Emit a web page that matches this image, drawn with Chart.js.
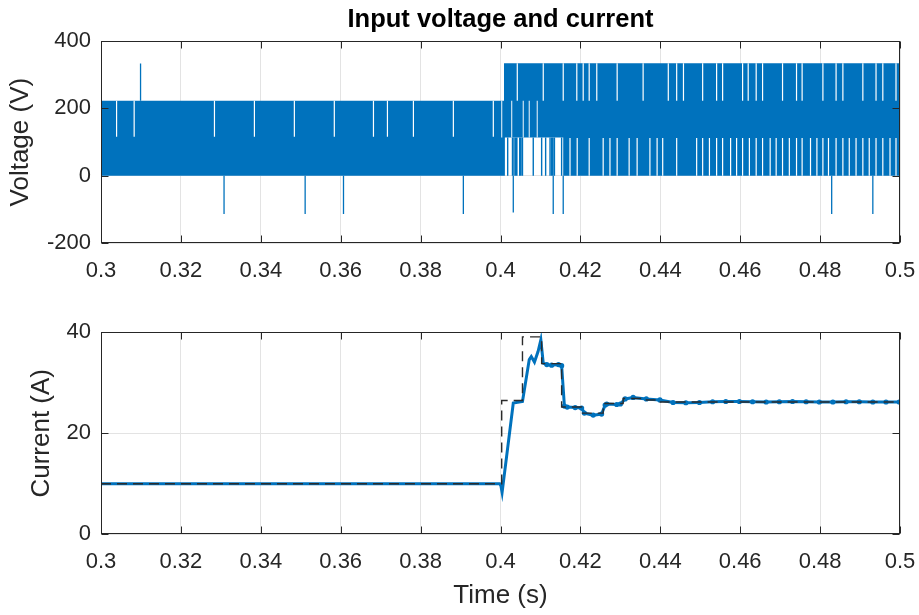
<!DOCTYPE html>
<html>
<head>
<meta charset="utf-8">
<title>Input voltage and current</title>
<script src="https://cdn.jsdelivr.net/npm/chart.js@4.4.0/dist/chart.umd.min.js"></script>
<style>
  body { margin: 0; background: #fff; }
  #wrap { position: relative; width: 919px; height: 615px; }
  canvas { position: absolute; left: 0; }
  #voltageChart { top: 0; }
  #currentChart { top: 290px; }
</style>
</head>
<body>
<div id="wrap">
  <canvas id="voltageChart" width="919" height="290"></canvas>
  <canvas id="currentChart" width="919" height="325"></canvas>
</div>
<script>
// ticks
const timeTicks = [0.3, 0.32, 0.34, 0.36, 0.38, 0.4, 0.42, 0.44, 0.46, 0.48, 0.5];
const voltageTicks = [-200, 0, 200, 400];
const currentTicks = [0, 20, 40];

// switched input voltage (V): upper envelope, held until next time
const envTime = [0.3, 0.40088, 0.5];
const envTop = [223, 334, 334];
const midLevel = 114;
// lower part of the band (0 .. ~116 V), almost empty right after the step
const lowTime = [0.3, 0.4011, 0.4157, 0.5];
const lowTop = [116, 0, 116, 116];

// instants where the pwm skips a level (white gaps in the band)
const gapsBefore = [0.3039, 0.3083, 0.3284, 0.3384, 0.3484, 0.3584, 0.3682, 0.3717, 0.3782, 0.3882, 0.3982]; // 223 -> 116
const gapsMid = [0.4003, 0.4028, 0.4057, 0.4072, 0.4092]; // 223 -> 114
const gapsUpper = [0.4042, 0.4107, 0.4157, 0.4191, 0.4207, 0.4222, 0.4241, 0.4292, 0.4357, 0.4420, 0.4441, 0.4458,
  0.4506, 0.4541, 0.4556, 0.4606, 0.4620, 0.4640, 0.4656, 0.4706, 0.4741, 0.4755, 0.4807, 0.4840, 0.4857,
  0.4907, 0.4940, 0.4957, 0.4990]; // 334 -> 223
const gapsLower = [0.4174, 0.4192, 0.4222, 0.4257, 0.4274, 0.4292, 0.4322, 0.4342, 0.4374, 0.4392, 0.4406, 0.4441,
  0.4491, 0.4506, 0.4523, 0.4541, 0.4556, 0.4576, 0.4591, 0.4606, 0.4623, 0.4640, 0.4656, 0.4675, 0.4690,
  0.4706, 0.4723, 0.4741, 0.4755, 0.4776, 0.4792, 0.4807, 0.4821, 0.4840, 0.4857, 0.4873, 0.4890, 0.4907,
  0.4923, 0.4940, 0.4957, 0.4975, 0.4990]; // 0 -> 112
// single pulses in the empty lower part (0 -> 114)
const sparsePulses = [0.4018, 0.4030, 0.4034, 0.4038, 0.4041, 0.4048, 0.4051, 0.4055, 0.4082, 0.4103, 0.4113,
  0.4124, 0.4128, 0.4131, 0.4135, 0.4153];

// spikes
const spikeUpTime = [0.3099];
const spikeUpValue = [333];
const spikeDownTime = [0.3308, 0.3511, 0.3607, 0.3907, 0.4032, 0.4132, 0.4157, 0.4829, 0.4932];
const spikeDownValue = [-113, -113, -113, -113, -109, -113, -113, -113, -113];

// current reference (A), held until next time
const refTime = [0.3, 0.4003, 0.4055, 0.4103, 0.4153, 0.4203, 0.4257, 0.4307, 0.4365, 0.4400, 0.5];
const refCurrent = [10, 26.5, 39.1, 33.8, 25.2, 24.0, 25.9, 26.9, 26.6, 26.2, 26.2];

// measured current (A)
const measTime = [0.3, 0.35, 0.3998, 0.4001, 0.4004, 0.4032, 0.4055, 0.4072, 0.4077, 0.4085, 0.4094, 0.4101,
  0.4107, 0.4116, 0.4128, 0.4145, 0.4153, 0.4160, 0.4167, 0.4187, 0.4203, 0.4210, 0.4232, 0.4253, 0.4262,
  0.4266, 0.4291, 0.4300, 0.4312, 0.4332, 0.4365, 0.4399, 0.4432, 0.4464, 0.4498, 0.4531, 0.4564, 0.4598,
  0.4631, 0.4665, 0.4698, 0.4731, 0.4765, 0.4798, 0.4832, 0.4865, 0.4898, 0.4932, 0.4965, 0.4998];
const measCurrent = [10, 10, 10, 9.6, 8.3, 26.0, 26.3, 34.6, 35.2, 34.1, 36.2, 38.5,
  33.9, 33.6, 33.5, 33.6, 33.4, 25.4, 25.2, 25.1, 25.0, 24.0, 23.6, 23.8, 25.6,
  25.8, 25.7, 25.8, 26.8, 27.1, 26.8, 26.6, 26.1, 26.05, 26.1, 26.25, 26.3, 26.3,
  26.25, 26.2, 26.25, 26.3, 26.25, 26.2, 26.2, 26.25, 26.25, 26.2, 26.2, 26.2];

const blue = '#0072BD';
const axisColor = '#262626';
const gridColor = '#e3e3e3';
Chart.defaults.font.family = '"Liberation Sans", Arial, sans-serif';
Chart.defaults.color = axisColor;

const toPoints = (xs, ys) => xs.map((x, i) => ({ x: x, y: ys[i] }));
const vSegments = (xs, from, to) => xs.flatMap((x, i) => [
  { x: x, y: Array.isArray(from) ? from[i] : from },
  { x: x, y: Array.isArray(to) ? to[i] : to },
  { x: x, y: null }
]);

// box + inward ticks like matlab
const axesBox = {
  id: 'axesBox',
  afterDraw(chart) {
    const { ctx, chartArea: a, scales } = chart;
    const l = Math.round(a.left) + 0.5, r = Math.round(a.right) - 0.5;
    const t = Math.round(a.top) + 0.5, b = Math.round(a.bottom) - 0.5;
    ctx.save();
    ctx.strokeStyle = axisColor;
    ctx.lineWidth = 1;
    ctx.strokeRect(l, t, r - l, b - t);
    ctx.beginPath();
    scales.x.ticks.forEach(tk => {
      const px = Math.round(scales.x.getPixelForValue(tk.value)) + 0.5;
      ctx.moveTo(px, b); ctx.lineTo(px, b - 7);
      ctx.moveTo(px, t); ctx.lineTo(px, t + 7);
    });
    scales.y.ticks.forEach(tk => {
      const py = Math.round(scales.y.getPixelForValue(tk.value)) + 0.5;
      ctx.moveTo(l, py); ctx.lineTo(l + 7, py);
      ctx.moveTo(r, py); ctx.lineTo(r - 7, py);
    });
    ctx.stroke();
    const title = chart.options.plugins.axesBox.title;
    if (title) {
      ctx.fillStyle = '#000';
      ctx.font = 'bold 25.5px "Liberation Sans", Arial, sans-serif';
      ctx.textAlign = 'center';
      ctx.textBaseline = 'middle';
      ctx.fillText(title, (a.left + a.right) / 2, 20);
    }
    ctx.restore();
  }
};

const xScale = (height, titleText) => ({
  type: 'linear',
  min: 0.3,
  max: 0.5,
  afterBuildTicks: s => { s.ticks = timeTicks.map(v => ({ value: v })); },
  afterFit: s => { s.height = height; s.paddingLeft = 0; s.paddingRight = 0; },
  grid: { color: gridColor, drawTicks: false },
  border: { display: false },
  ticks: {
    padding: 14,
    autoSkip: false,
    maxRotation: 0,
    font: { size: 22 },
    callback: v => String(+v.toFixed(2))
  },
  title: {
    display: !!titleText,
    text: titleText,
    font: { size: 26 },
    padding: { top: 0, bottom: 4 }
  }
});

const yScale = (min, max, tickList, titleText, titlePad) => ({
  type: 'linear',
  min: min,
  max: max,
  afterBuildTicks: s => { s.ticks = tickList.map(v => ({ value: v })); },
  afterFit: s => { s.width = 101; s.paddingTop = 0; s.paddingBottom = 0; },
  grid: { color: gridColor, drawTicks: false },
  border: { display: false },
  ticks: { padding: 10, font: { size: 22 } },
  title: { display: true, text: titleText, font: { size: 26 }, padding: { top: titlePad, bottom: 0 } }
});

const lineOpts = { pointRadius: 0, tension: 0, fill: false };

// voltage
new Chart(document.getElementById('voltageChart'), {
  type: 'line',
  data: {
    datasets: [
      { ...lineOpts, data: vSegments(spikeUpTime, envTop[0], spikeUpValue), borderColor: blue, borderWidth: 1.3 },
      { ...lineOpts, data: vSegments(spikeDownTime, 0, spikeDownValue), borderColor: blue, borderWidth: 1.3 },
      { ...lineOpts, data: vSegments(sparsePulses, 0, midLevel), borderColor: blue, borderWidth: 1.4 },
      { ...lineOpts, data: vSegments(gapsBefore, envTop[0], 116), borderColor: '#fff', borderWidth: 1.2 },
      { ...lineOpts, data: vSegments(gapsMid, envTop[0], midLevel), borderColor: 'rgba(255,255,255,0.8)', borderWidth: 1.2 },
      { ...lineOpts, data: vSegments(gapsUpper, envTop[1], envTop[0]), borderColor: '#fff', borderWidth: 1.2 },
      { ...lineOpts, data: vSegments(gapsLower, 0, 112), borderColor: '#fff', borderWidth: 1.2 },
      {
        ...lineOpts, data: toPoints(envTime, envTop), stepped: true,
        borderWidth: 0, borderColor: blue, backgroundColor: blue, fill: { value: midLevel }
      },
      {
        ...lineOpts, data: toPoints(lowTime, lowTop), stepped: true,
        borderWidth: 0, borderColor: blue, backgroundColor: blue, fill: 'origin'
      }
    ]
  },
  options: {
    responsive: false,
    animation: false,
    devicePixelRatio: 1,
    layout: { padding: { top: 41, left: 0, right: 19, bottom: 0 } },
    scales: {
      x: xScale(46.7, ''),
      y: yScale(-200, 400, voltageTicks, 'Voltage (V)', 5.6)
    },
    plugins: {
      legend: { display: false },
      tooltip: { enabled: false },
      axesBox: { title: 'Input voltage and current' }
    }
  },
  plugins: [axesBox]
});

// current
new Chart(document.getElementById('currentChart'), {
  type: 'line',
  data: {
    datasets: [
      {
        ...lineOpts, data: toPoints(refTime, refCurrent), stepped: true,
        borderColor: '#2b2b2b', borderWidth: 1.4, borderDash: [10, 6]
      },
      {
        ...lineOpts, data: toPoints(measTime, measCurrent),
        borderColor: blue, borderWidth: 3,
        pointRadius: c => (c.raw && c.raw.x > 0.411 ? 2.6 : 0),
        pointBackgroundColor: blue, pointBorderWidth: 0
      }
    ]
  },
  options: {
    responsive: false,
    animation: false,
    devicePixelRatio: 1,
    layout: { padding: { top: 42.3, left: 0, right: 19, bottom: 0 } },
    scales: {
      x: xScale(80.7, 'Time (s)'),
      y: yScale(0, 40, currentTicks, 'Current (A)', 26.6)
    },
    plugins: {
      legend: { display: false },
      tooltip: { enabled: false },
      axesBox: { title: '' }
    }
  },
  plugins: [axesBox]
});
</script>
</body>
</html>
